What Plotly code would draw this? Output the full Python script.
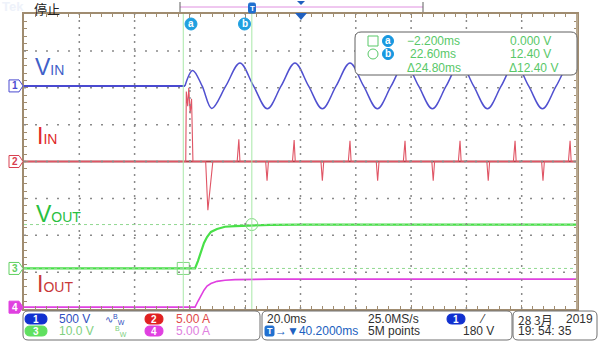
import plotly.graph_objects as go

# screen / graticule geometry (px)
W, H = 600, 343
L, R, T, B = 24, 577, 14, 309

# timebase: 20 ms/div, delay 40.2 ms -> screen spans -59.8 .. 140.2 ms
x_min, x_max = -59.8, 140.2

# channel vertical position (div) and scale (unit/div)
pos_vin, scale_vin = 2.05, 500.0
pos_iin, scale_iin = 0.0, 5.0
pos_vout, scale_vout = -2.9, 10.0
pos_iout, scale_iout = -3.95, 5.0

# --- VIN (V) ---
vin_flat_t = [-59.8, -1.6]
vin_flat_v = [0, 0]
vin_wave_t = [-1.6, 1.2, 4.6, 8.1, 13.2, 18.3, 23.2, 28.2, 33.2, 38.2, 43.1, 48.1,
              53.1, 58.1, 63.0, 68.0, 73.0, 78.0, 82.9, 87.9, 92.9, 97.9, 102.8,
              107.8, 112.8, 117.8, 122.7, 127.7, 132.7, 137.7, 140.2]
vin_wave_v = [0, 210, 0, -305, 0, 310, 0, -310, 0, 310, 0, -310,
              0, 310, 0, -310, 0, 310, 0, -310, 0, 310, 0,
              -310, 0, 310, 0, -310, 0, 310, 220]

# --- IIN (A) ---
iin_start_t = [-59.8, -1.3, -1.1, -0.6, -0.2, 0.3, 0.8, 1.1, 1.3, 5.9, 6.7, 8.5]
iin_start_a = [0, 0, 9.5, 7.5, 10.0, 6.5, 8.5, 5.0, 0, 0, -6.6, 0]
iin_pos_t = [17.9, 37.9, 58.1, 78.0, 97.9, 117.8, 137.7]
iin_pos_a = [3.0, 2.9, 2.8, 2.8, 2.8, 2.8, 2.8]
iin_neg_t = [28.1, 48.1, 68.1, 88.2, 108.1, 127.9]
iin_neg_a = [-2.6, -2.6, -2.6, -2.6, -2.6, -2.6]

# --- VOUT (V) and IOUT (A) ---
out_t = [-59.8, 2.05, 3.1, 4.2, 5.3, 6.4, 7.8, 10.0, 12.9, 16.5, 21.9, 29.2, 40.0, 140.2]
vout_v = [0, 0, 2.0, 4.7, 6.9, 8.5, 9.9, 10.7, 11.3, 11.5, 11.7, 11.8, 11.9, 11.9]
iout_a = [0, 0, 0.8, 1.6, 2.3, 2.85, 3.2, 3.5, 3.65, 3.73, 3.78, 3.8, 3.8, 3.8]

# cursors
cursor_t = [-2.2, 22.6]
cursor_v = [0.0, 11.9]

# build IIN trace from start segment + spikes
iin_t, iin_a = list(iin_start_t), list(iin_start_a)
spikes = sorted([(t, a, 0.6, 0.4) for t, a in zip(iin_pos_t, iin_pos_a)] +
                [(t, a, 0.5, 0.5) for t, a in zip(iin_neg_t, iin_neg_a)])
for t, a, wl, wr in spikes:
    iin_t += [t - wl, t, t + wr]
    iin_a += [0, a, 0]
iin_t.append(140.2)
iin_a.append(0)


def div(vals, pos, scale):
    return [pos + v / scale for v in vals]


def X(px):
    return (px - L) / (R - L)


def Y(py):
    return (B - py) / (B - T)


shapes = []
anns = []

# dotted graticule (10 x 8 divisions), drawn in paper space
for k in range(1, 10):
    xp = k / 10
    shapes.append(dict(type="line", xref="paper", yref="paper", x0=xp, x1=xp, y0=0, y1=1,
                       line=dict(color="#8a8a8a", width=1.5, dash="2px,5px")))
for k in range(1, 8):
    yp = k / 8
    shapes.append(dict(type="line", xref="paper", yref="paper", x0=0, x1=1, y0=yp, y1=yp,
                       line=dict(color="#8a8a8a", width=1.5, dash="2px,9px")))

fig = go.Figure()
fig.add_trace(go.Scatter(x=out_t, y=div(iout_a, pos_iout, scale_iout), mode="lines",
                         line=dict(color="#e040e0", width=1.6)))
fig.add_trace(go.Scatter(x=out_t, y=div(vout_v, pos_vout, scale_vout), mode="lines",
                         line=dict(color="#48e048", width=2.2)))
fig.add_trace(go.Scatter(x=[x_min, x_max], y=[pos_iin, pos_iin], mode="lines",
                         line=dict(color="#b04048", width=1.8)))
fig.add_trace(go.Scatter(x=iin_t, y=div(iin_a, pos_iin, scale_iin), mode="lines",
                         line=dict(color="#e05565", width=1.1)))
fig.add_trace(go.Scatter(x=vin_flat_t, y=div(vin_flat_v, pos_vin, scale_vin), mode="lines",
                         line=dict(color="#4a4ad0", width=2)))
fig.add_trace(go.Scatter(x=vin_wave_t, y=div(vin_wave_v, pos_vin, scale_vin), mode="lines",
                         line=dict(color="#5050d0", width=1.5, shape="spline")))
# cursor markers on VOUT
fig.add_trace(go.Scatter(x=cursor_t, y=div(cursor_v, pos_vout, scale_vout), mode="markers",
                         marker=dict(symbol=["square-open", "circle-open"], size=12,
                                     color="#80d880", line=dict(width=1))))

# cursor lines
for t in cursor_t:
    shapes.append(dict(type="line", xref="x", yref="paper", x0=t, x1=t, y0=0, y1=1,
                       line=dict(color="#a8e8a8", width=1)))
for v in cursor_v:
    yv = pos_vout + v / scale_vout
    shapes.append(dict(type="line", xref="paper", yref="y", x0=0, x1=1, y0=yv, y1=yv,
                       line=dict(color="#90d890", width=1, dash="3px,3px")))

# right frame edge
shapes.append(dict(type="line", xref="paper", yref="paper", x0=1, x1=1, y0=0, y1=1,
                   line=dict(color="#b8a890", width=2)))


def rrect(x0, y0, x1, y1, r, color="#707070", fill="rgba(0,0,0,0)", width=1):
    rx, ry = r, r
    p = (f"M {X(x0+rx)},{Y(y0)} L {X(x1-rx)},{Y(y0)} Q {X(x1)},{Y(y0)} {X(x1)},{Y(y0+ry)} "
         f"L {X(x1)},{Y(y1-ry)} Q {X(x1)},{Y(y1)} {X(x1-rx)},{Y(y1)} "
         f"L {X(x0+rx)},{Y(y1)} Q {X(x0)},{Y(y1)} {X(x0)},{Y(y1-ry)} "
         f"L {X(x0)},{Y(y0+ry)} Q {X(x0)},{Y(y0)} {X(x0+rx)},{Y(y0)} Z")
    shapes.append(dict(type="path", xref="paper", yref="paper", path=p,
                       line=dict(color=color, width=width), fillcolor=fill))


def text(px, py, s, color="#303030", size=12, anchor="left", family="Liberation Sans", bold=False):
    anns.append(dict(x=X(px), y=Y(py), xref="paper", yref="paper", text=s, showarrow=False,
                     xanchor=anchor, yanchor="middle", borderpad=0,
                     font=dict(color=color, size=size, family=family,
                               weight="bold" if bold else "normal")))


def circle(cx, cy, r, color, fill="rgba(0,0,0,0)"):
    shapes.append(dict(type="circle", xref="paper", yref="paper",
                       x0=X(cx - r), x1=X(cx + r), y0=Y(cy + r), y1=Y(cy - r),
                       line=dict(color=color, width=1), fillcolor=fill))


# channel tags at left edge
tags = [("1", pos_vin, "#4a4ad0", False), ("2", pos_iin, "#d84050", False),
        ("3", pos_vout, "#60d060", False), ("4", pos_iout, "#e040e0", True)]
for n, p, c, filled in tags:
    yc = B - (p + 4) / 8 * (B - T)
    path = (f"M {X(9)},{Y(yc-6)} L {X(19)},{Y(yc-6)} L {X(23)},{Y(yc)} "
            f"L {X(19)},{Y(yc+6)} L {X(9)},{Y(yc+6)} Z")
    shapes.append(dict(type="path", xref="paper", yref="paper", path=path,
                       line=dict(color=c, width=1), fillcolor=c if filled else "white"))
    text(14.5, yc, n, color="white" if filled else c, size=10, anchor="center", bold=True)

# big channel labels
lab = "font-size:14px"
text(34, 67, f"V<span style='{lab}'>IN</span>", color="#4060c8", size=23)
text(36, 136, f"I<span style='{lab}'>IN</span>", color="#e02828", size=23)
text(35, 214, f"V<span style='{lab}'>OUT</span>", color="#28c040", size=23)
text(36, 284, f"I<span style='{lab}'>OUT</span>", color="#c83838", size=23)

# top header
text(1, 7, "Tek", color="#eef2fa", size=13, bold=True)
text(33, 8, "停止", color="#202020", size=13, family="Noto Sans CJK SC")
shapes.append(dict(type="line", xref="paper", yref="paper", x0=X(180), x1=X(423),
                   y0=Y(7), y1=Y(7), line=dict(color="#e090e0", width=1)))
for bx in (180, 423):
    shapes.append(dict(type="line", xref="paper", yref="paper", x0=X(bx), x1=X(bx),
                       y0=Y(2), y1=Y(12), line=dict(color="#606060", width=1)))
rrect(248.5, 3, 255.5, 13, 1.5, color="#2070d0", fill="#2070d0")
text(252, 8, "T", color="white", size=8, anchor="center", bold=True)
shapes.append(dict(type="path", xref="paper", yref="paper",
                   path=f"M {X(297)},{Y(1)} L {X(305)},{Y(1)} L {X(301)},{Y(5)} Z",
                   line=dict(color="#2060c0", width=0), fillcolor="#2060c0"))
shapes.append(dict(type="path", xref="paper", yref="paper",
                   path=f"M {X(295)},{Y(13)} L {X(307)},{Y(13)} L {X(301)},{Y(20)} Z",
                   line=dict(color="#2060c0", width=0), fillcolor="#2060c0"))

# cursor labels a / b
for cx, s in ((191, "a"), (244.5, "b")):
    circle(cx, 24, 6, "#20a0e0", "#20a0e0")
    text(cx, 23.5, s, color="white", size=10, anchor="center", bold=True)

# cursor readout box
rrect(355, 32, 577, 75, 6, color="#606060", fill="white")
g = "#58c868"
shapes.append(dict(type="rect", xref="paper", yref="paper", x0=X(368), x1=X(378),
                   y0=Y(46), y1=Y(36), line=dict(color=g, width=1)))
circle(373, 54, 5, g)
for cy, s in ((41, "a"), (54, "b")):
    circle(388, cy, 5.5, "#1898e0", "#1898e0")
    text(388, cy - 0.5, s, color="white", size=10, anchor="center", bold=True)
text(461, 41, "\u22122.200ms", color=g, anchor="right")
text(457, 54, "22.60ms", color=g, anchor="right")
text(462, 68, "\u039424.80ms", color=g, anchor="right")
text(552, 41, "0.000 V", color=g, anchor="right")
text(552, 54, "12.40 V", color=g, anchor="right")
text(559, 68, "\u039412.40 V", color=g, anchor="right")

# status bar
rrect(23, 311, 260, 340, 5)
rrect(262, 311, 512, 340, 5)
rrect(513, 311, 597, 340, 5)
for (x0, x1, yc, c, n) in ((25, 47, 319, "#1030d0", "1"), (25, 47, 331, "#60e060", "3"),
                           (145, 163, 319, "#e02020", "2"), (145, 163, 331, "#e040e0", "4"),
                           (447, 465, 319, "#1030d0", "1")):
    rrect(x0, yc - 5, x1, yc + 5, 5, color=c, fill=c)
    text((x0 + x1) / 2, yc, n, color="white", size=10, anchor="center", bold=True)
text(58, 319, "500 V", color="#3050c0")
text(58, 331, "10.0 V", color="#80d080")
text(104, 319, "\u223f<sup>B</sup><sub>W</sub>", color="#3050c0", size=10)
text(114, 331, "<sup>B</sup><sub>W</sub>", color="#80d080", size=10)
text(175, 319, "5.00 A", color="#e04848")
text(175, 331, "5.00 A", color="#e080e0")
text(266, 319, "20.0ms")
rrect(265, 326, 274, 336, 1.5, color="#2070d0", fill="#2070d0")
text(269.5, 331, "T", color="white", size=9, anchor="center", bold=True)
text(274, 331, "\u2192\u25bc40.2000ms", color="#2060c0")
text(367, 319, "25.0MS/s")
text(367, 331, "5M points")
text(478, 319, "\u2044")
text(462, 331, "180 V")
text(517, 319, "28 3月", family="Noto Sans CJK SC")
text(594, 319, "2019", anchor="right")
text(517, 331, "19: 54: 35")

frame = "#a08c70"
fig.update_layout(
    width=W, height=H,
    margin=dict(l=L, r=W - R, t=T, b=H - B, autoexpand=False),
    paper_bgcolor="white", plot_bgcolor="white",
    showlegend=False,
    shapes=shapes, annotations=anns,
    xaxis=dict(range=[x_min, x_max], dtick=20, tick0=x_min, showticklabels=False,
               showgrid=False, zeroline=False, showline=True, linecolor=frame, linewidth=1.5,
               mirror="ticks", ticks="inside", ticklen=4, tickcolor=frame,
               minor=dict(dtick=4, tick0=x_min, ticks="inside", ticklen=3, tickcolor=frame)),
    yaxis=dict(range=[-4, 4], dtick=1, showticklabels=False,
               showgrid=False, zeroline=False, showline=True, linecolor=frame, linewidth=1.5,
               mirror="ticks", ticks="inside", ticklen=4, tickcolor=frame,
               minor=dict(dtick=0.2, ticks="inside", ticklen=3, tickcolor=frame)),
)

fig.write_html("out.html", config={"displayModeBar": False},
               post_script="document.body.style.margin='0';document.body.style.padding='0';")
